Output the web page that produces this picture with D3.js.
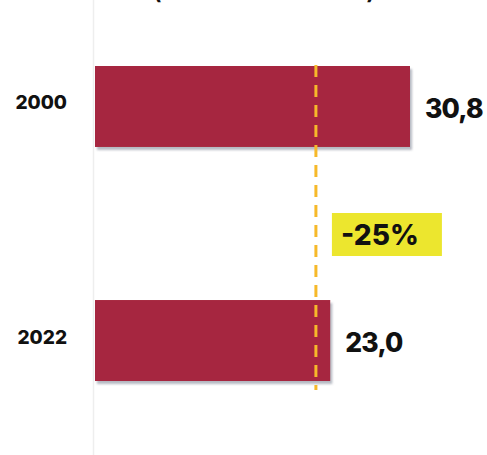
<!DOCTYPE html>
<html>
<head>
<meta charset="utf-8">
<script src="https://cdn.jsdelivr.net/npm/d3@7"></script>
<style>
  html, body { margin: 0; padding: 0; background: #ffffff; }
  svg { display: block; }
</style>
</head>
<body>
<svg id="chart" width="487" height="455"></svg>
<script>
// Data
const years = ["2000", "2022"];
const values = [30.8, 23.0];
const valueLabels = ["30,8", "23,0"];
const referenceValue = 21.6;
const changeLabel = "-25%";
const subtitle = "(millones de toneladas)";

const svg = d3.select("#chart");
const W = 487, H = 455;
const heavyFont = "Inter, Roboto, Liberation Sans, Arial, sans-serif";

const x = d3.scaleLinear().domain([0, 30.8]).range([95, 410]);
const y = d3.scaleBand().domain(years).range([66, 381]).paddingInner(0.654).paddingOuter(0);

// soft drop shadow under bars
const defs = svg.append("defs");
const f = defs.append("filter").attr("id", "shadow")
  .attr("x", "-5%").attr("y", "-10%").attr("width", "115%").attr("height", "130%");
f.append("feDropShadow").attr("dx", 2).attr("dy", 3).attr("stdDeviation", 1.2)
  .attr("flood-color", "#7a7f90").attr("flood-opacity", 0.55);

// subtitle (runs off the top edge)
svg.append("text")
  .attr("x", 264).attr("y", -0.5)
  .attr("text-anchor", "middle")
  .attr("font-family", heavyFont)
  .attr("font-weight", 800)
  .attr("font-size", 19)
  .attr("fill", "#111")
  .text(subtitle);

// faint baseline axis
svg.append("line")
  .attr("x1", x(0) - 1.5).attr("x2", x(0) - 1.5)
  .attr("y1", 0).attr("y2", H)
  .attr("stroke", "#eeeeee").attr("stroke-width", 1.5);

// bars
svg.selectAll("rect.bar").data(years).join("rect")
  .attr("class", "bar")
  .attr("x", x(0))
  .attr("y", d => y(d))
  .attr("width", (d, i) => x(values[i]) - x(0))
  .attr("height", y.bandwidth())
  .attr("fill", "#a6263f")
  .attr("filter", "url(#shadow)");

// reference dashed line
svg.append("line")
  .attr("x1", x(referenceValue)).attr("x2", x(referenceValue))
  .attr("y1", 65).attr("y2", 390)
  .attr("stroke", "#f6b92a").attr("stroke-width", 3)
  .attr("stroke-dasharray", "12,8");

// category labels
svg.selectAll("text.year").data(years).join("text")
  .attr("class", "year")
  .attr("x", 67)
  .attr("y", d => y(d) + y.bandwidth() / 2 + 3)
  .attr("text-anchor", "end")
  .attr("font-family", heavyFont)
  .attr("font-weight", 800)
  .attr("font-size", 19)
  .attr("fill", "#111")
  .text(d => d);

// value labels
svg.selectAll("text.value").data(years).join("text")
  .attr("class", "value")
  .attr("x", (d, i) => x(values[i]) + 15)
  .attr("y", d => y(d) + y.bandwidth() / 2 + 11.5)
  .attr("font-family", heavyFont)
  .attr("font-weight", 800)
  .attr("font-size", 26.5)
  .attr("letter-spacing", -0.8)
  .attr("fill", "#111")
  .text((d, i) => valueLabels[i]);

// change badge
const bx = x(referenceValue) + 16, by = 213, bw = 110, bh = 43;
svg.append("rect")
  .attr("x", bx).attr("y", by).attr("width", bw).attr("height", bh)
  .attr("fill", "#ece62e");
svg.append("text")
  .attr("x", bx + 48).attr("y", by + bh / 2 + 10)
  .attr("text-anchor", "middle")
  .attr("font-family", heavyFont)
  .attr("font-weight", 800)
  .attr("font-size", 28)
  .attr("fill", "#111")
  .text(changeLabel);
</script>
</body>
</html>
